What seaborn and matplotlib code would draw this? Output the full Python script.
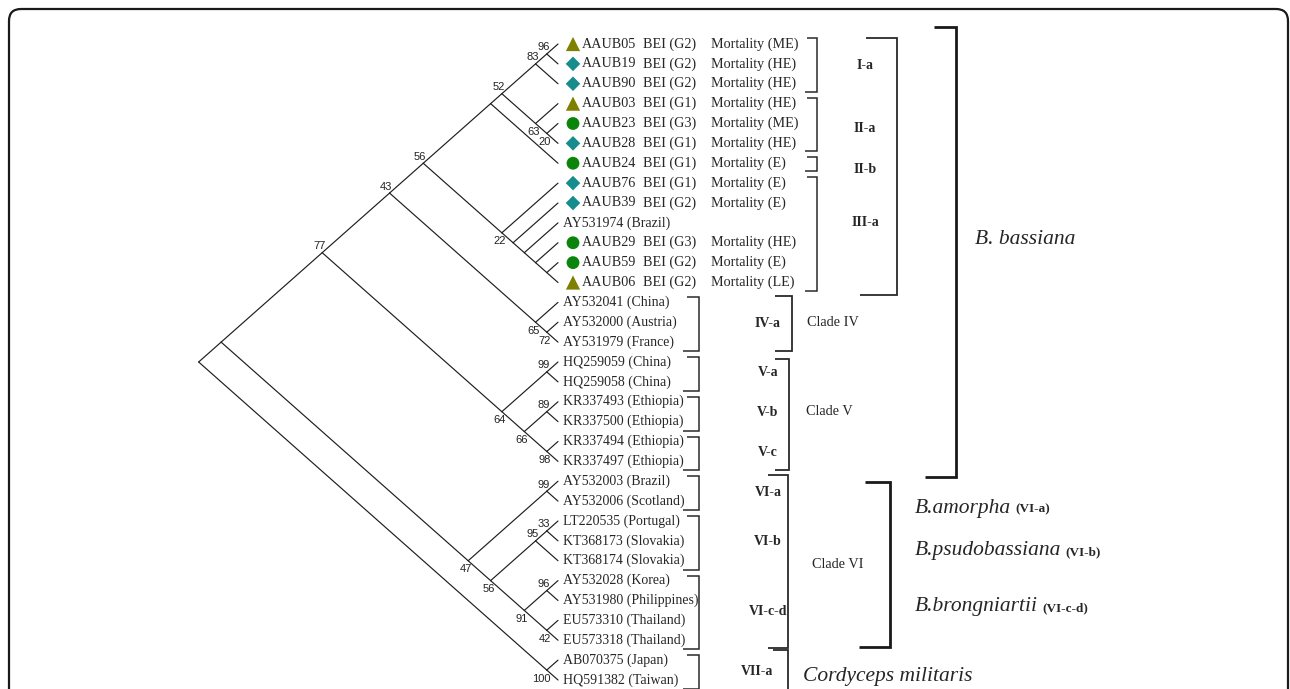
import numpy as np
import pandas as pd
import matplotlib
matplotlib.use("Agg")
import matplotlib.pyplot as plt
import seaborn as sns
from matplotlib.patches import FancyBboxPatch

# ---------------- data ----------------
leaf_names = ["AAUB05", "AAUB19", "AAUB90", "AAUB03", "AAUB23", "AAUB28", "AAUB24",
              "AAUB76", "AAUB39", "AY531974 (Brazil)", "AAUB29", "AAUB59", "AAUB06",
              "AY532041 (China)", "AY532000 (Austria)", "AY531979 (France)",
              "HQ259059 (China)", "HQ259058 (China)",
              "KR337493 (Ethiopia)", "KR337500 (Ethiopia)", "KR337494 (Ethiopia)", "KR337497 (Ethiopia)",
              "AY532003 (Brazil)", "AY532006 (Scotland)", "LT220535 (Portugal)",
              "KT368173 (Slovakia)", "KT368174 (Slovakia)", "AY532028 (Korea)",
              "AY531980 (Philippines)", "EU573310 (Thailand)", "EU573318 (Thailand)",
              "AB070375 (Japan)", "HQ591382 (Taiwan)"]
bei_group = ["G2", "G2", "G2", "G1", "G3", "G1", "G1", "G1", "G2", "", "G3", "G2", "G2"] + [""] * 20
mortality = ["ME", "HE", "HE", "HE", "ME", "HE", "E", "E", "E", "", "HE", "E", "LE"] + [""] * 20
marker_class = ["triangle", "diamond", "diamond", "triangle", "circle", "diamond", "circle",
                "diamond", "diamond", "", "circle", "circle", "triangle"] + [""] * 20

# tree topology (leaf indices) with bootstrap support values
newick = ("(((((((((0,1)96,2)83,(3,(4,5)20)63)52,6),(7,(8,(9,(10,(11,12)))))22)56,"
          "(13,(14,15)72)65)43,((16,17)99,((18,19)89,(20,21)98)66)64)77,"
          "((22,23)99,(((24,25)33,26)95,((27,28)96,(29,30)42)91)56)47),(31,32)100)")

# sub-groups (first level brackets): label, first leaf, last leaf
sub_groups = [("I-a", 0, 2), ("II-a", 3, 5), ("II-b", 6, 6), ("III-a", 7, 12)]
clade_groups = [("IV-a", 13, 15), ("V-a", 16, 17), ("V-b", 18, 19), ("V-c", 20, 21),
                ("VI-a", 22, 23), ("VI-b", 24, 26), ("VI-c-d", 27, 30), ("VII-a", 31, 32)]
clade_names = [("Clade IV", 13, 15), ("Clade V", 16, 21), ("Clade VI", 22, 30)]
species = [("B.amorpha", "(VI-a)"), ("B.psudobassiana", "(VI-b)"), ("B.brongniartii", "(VI-c-d)")]

# ---------------- layout constants ----------------
Y0, ROW = 44.0, 19.875
TIP_X, SLOPE = 558.0, 1.13
SERIF = ["Liberation Serif", "DejaVu Serif"]
SANS = ["Liberation Sans", "DejaVu Sans"]


def parse(s, i=0):
    if s[i] == "(":
        i += 1
        children = []
        while True:
            child, i = parse(s, i)
            children.append(child)
            if s[i] == ",":
                i += 1
                continue
            if s[i] == ")":
                i += 1
                break
        j = i
        while j < len(s) and s[j].isdigit():
            j += 1
        return {"children": children, "support": s[i:j] or None}, j
    j = i
    while j < len(s) and s[j].isdigit():
        j += 1
    return {"leaf": int(s[i:j])}, j


root, _ = parse(newick)


def layout(node):
    if "leaf" in node:
        node["lo"] = node["hi"] = node["leaf"]
    else:
        for c in node["children"]:
            layout(c)
        node["lo"] = min(c["lo"] for c in node["children"])
        node["hi"] = max(c["hi"] for c in node["children"])
    node["y"] = Y0 + (node["lo"] + node["hi"]) / 2 * ROW
    node["x"] = TIP_X - (node["hi"] - node["lo"]) / 2 * ROW * SLOPE


layout(root)

edges = []
supports = []


def collect(node):
    if "children" not in node:
        return
    for k, c in enumerate(node["children"]):
        eid = len(edges)
        edges.append({"edge": eid, "x": node["x"], "y": node["y"]})
        edges.append({"edge": eid, "x": c["x"], "y": c["y"]})
        if "children" in c and c["support"]:
            supports.append((c["x"], c["y"], c["support"], k == 0))
        collect(c)


collect(root)
edge_df = pd.DataFrame(edges)

# ---------------- figure ----------------
sns.set_theme(style="white")
plt.rcParams["font.family"] = SERIF
fig = plt.figure(figsize=(12.9, 6.89), dpi=100)
ax = fig.add_axes([0, 0, 1, 1])

frame = FancyBboxPatch((9, 9), 1279, 720, boxstyle="round,pad=0,rounding_size=12",
                       fc="none", ec="#1a1a1a", lw=1.6)
ax.add_patch(frame)

sns.lineplot(data=edge_df, x="x", y="y", units="edge", estimator=None, sort=False,
             color="#1e1e1e", lw=0.85, ax=ax, legend=False)
ax.set_xlim(0, 1290)
ax.set_ylim(689, 0)
ax.axis("off")

for x, y, s, upper in supports:
    if upper:
        ax.text(x + 3, y - 1.5, s, ha="right", va="bottom", fontsize=8, family=SANS, color="#222")
    else:
        ax.text(x + 4, y + 3.5, s, ha="right", va="top", fontsize=8, family=SANS, color="#222")

# markers
leaf_y = Y0 + np.arange(len(leaf_names)) * ROW
mk = pd.DataFrame({"y": leaf_y, "cls": marker_class})
mk = mk[mk["cls"] != ""].copy()
mk["x"] = 573.0
sns.scatterplot(data=mk, x="x", y="y", hue="cls", style="cls", size="cls",
                markers={"triangle": "^", "diamond": "D", "circle": "o"},
                palette={"triangle": "#808000", "diamond": "#168c8c", "circle": "#0a840a"},
                sizes={"triangle": 105, "diamond": 55, "circle": 85},
                edgecolor="none", linewidth=0, legend=False, ax=ax)

# leaf labels
for i, name in enumerate(leaf_names):
    y = leaf_y[i]
    if bei_group[i]:
        ax.text(582, y, name, va="center", ha="left", fontsize=10.2)
        ax.text(643, y, f"BEI ({bei_group[i]})", va="center", ha="left", fontsize=10.2)
        ax.text(711, y, f"Mortality ({mortality[i]})", va="center", ha="left", fontsize=10.2)
    else:
        ax.text(563, y, name, va="center", ha="left", fontsize=10)


def bracket(x, y0, y1, t0, t1, lw, color="#2a2a2a"):
    ax.plot([x - t0, x, x, x - t1], [y0, y0, y1, y1], color=color, lw=lw,
            solid_joinstyle="miter", solid_capstyle="butt")


def ly(i):
    return Y0 + i * ROW


# first level brackets for B. bassiana sub-groups
sub_label_rows = [1.1, 4.25, 6.3, 9.0]
for (lab, a, b), r in zip(sub_groups, sub_label_rows):
    bracket(817, ly(a) - 6, ly(b) + 8, 10, 12, 1.1)
    ax.text(865, Y0 + r * ROW, lab, ha="center", va="center", fontsize=10, weight="bold")

for lab, a, b in clade_groups:
    bracket(699, ly(a) - 5, ly(b) + 9, 12, 16, 1.1)
    cx = 757 if lab.startswith("VII") else 768
    ax.text(cx, (ly(a) + ly(b)) / 2 + 1, lab, ha="center", va="center", fontsize=10, weight="bold")

# second level
bracket(897, ly(0) - 6, ly(12) + 12, 31, 37, 1.3)
bracket(792, ly(13) - 6, ly(15) + 9, 17, 17, 1.3)
bracket(789, ly(16) - 3, ly(21) + 9, 14, 14, 1.3)
bracket(788, ly(22) - 6, ly(30) + 8, 20, 20, 1.3)
bracket(788, ly(31) - 10, ly(32) + 30, 15, 15, 1.3)
for (lab, a, b), cx in zip(clade_names, [807, 806, 812]):
    ax.text(cx, (ly(a) + ly(b)) / 2 + (4 if lab == "Clade VI" else 0), lab,
            ha="left", va="center", fontsize=10.3)

# third level
bracket(956, ly(0) - 17, ly(21) + 16, 22, 31, 2.0, "#1a1a1a")
bracket(890, ly(22) + 1, ly(30) + 7, 25, 31, 2.0, "#1a1a1a")

ax.text(975, 239, "B. bassiana", ha="left", va="center", fontsize=15.5, style="italic")
ax.text(803, 677, "Cordyceps militaris", ha="left", va="center", fontsize=15.5, style="italic")

fig.canvas.draw()
renderer = fig.canvas.get_renderer()
for (sp, tag), yy in zip(species, [508, 551, 607]):
    t = ax.text(915, yy, sp, ha="left", va="center", fontsize=15.5, style="italic")
    bb = t.get_window_extent(renderer)
    ax.text(bb.x1 + 4, yy + 1.5, tag, ha="left", va="center", fontsize=9.5, weight="bold")

fig.savefig("out.png", dpi=100, facecolor="white")
